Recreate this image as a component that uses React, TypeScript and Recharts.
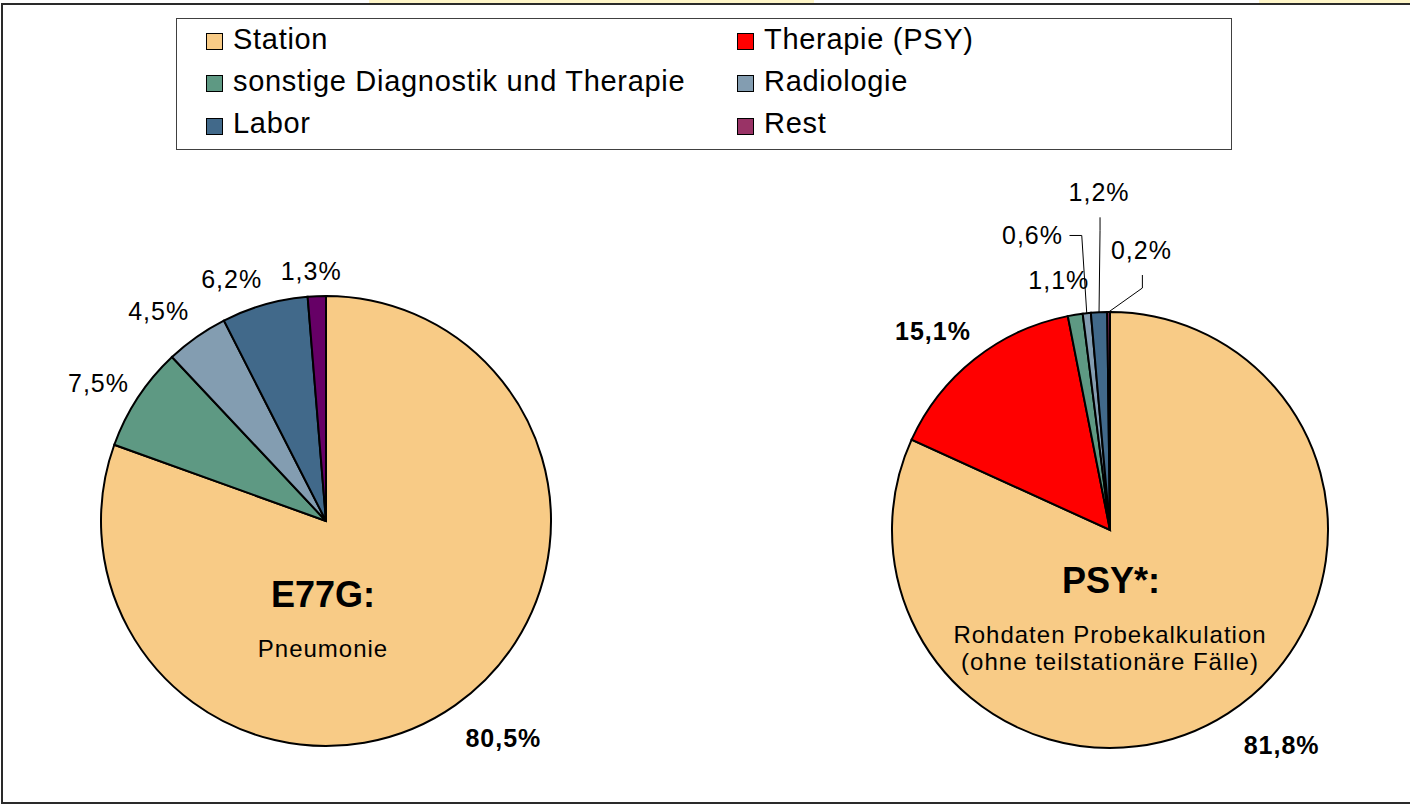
import React from 'react';
import { PieChart, Pie, Cell, Legend } from 'recharts';

const CATEGORIES = ['Station', 'Therapie (PSY)', 'sonstige Diagnostik und Therapie', 'Radiologie', 'Labor', 'Rest'];
const E77G_VALUES = [80.5, 0, 7.5, 4.5, 6.2, 1.3];
const PSY_VALUES = [81.8, 15.1, 1.1, 0.6, 1.2, 0.2];
const COLORS = ['#F8CB86', '#FF0000', '#5E9983', '#839DB1', '#41698A', '#993366'];
const E77G_REST_COLOR = '#660066';
const BOLD_LABELS = ['Station', 'Therapie (PSY)'];

const FONT = '"Liberation Sans", Arial, sans-serif';

// label placement tweaks (relative to a point 40px outside the slice)
type Nudge = { dx: number; dy: number; leader?: 'side' | 'below' };
const E77G_NUDGE: Record<string, Nudge> = {
  Station: { dx: 25, dy: 0 },
  'sonstige Diagnostik und Therapie': { dx: -6, dy: 7 },
  Radiologie: { dx: -15, dy: 7 },
  Labor: { dx: -22, dy: 13 },
  Rest: { dx: -4, dy: 15 },
};
const PSY_NUDGE: Record<string, Nudge> = {
  Station: { dx: 32, dy: -2 },
  'Therapie (PSY)': { dx: -17, dy: 3 },
  'sonstige Diagnostik und Therapie': { dx: -10, dy: 5 },
  Radiologie: { dx: -50, dy: -38, leader: 'side' },
  Labor: { dx: 2, dy: -80, leader: 'below' },
  Rest: { dx: 33, dy: -22, leader: 'below' },
};

const buildData = (values: number[], restColor: string) =>
  CATEGORIES.map((name, i) => ({
    name,
    value: values[i],
    color: name === 'Rest' ? restColor : COLORS[i],
  })).filter((d) => d.value > 0);

const e77gData = buildData(E77G_VALUES, E77G_REST_COLOR);
const psyData = buildData(PSY_VALUES, COLORS[5]);

const fmt = (v: number) => `${v.toFixed(1).replace('.', ',')}%`;

const makeLabel = (nudges: Record<string, Nudge>) => (props: any) => {
  const { cx, cy, midAngle, outerRadius, value } = props;
  const name = props.payload?.name ?? props.name;
  const n = nudges[name] || { dx: 0, dy: 0 };
  const rad = (-midAngle * Math.PI) / 180;
  const lx = cx + Math.cos(rad) * (outerRadius + 40) + n.dx;
  const ly = cy + Math.sin(rad) * (outerRadius + 40) + n.dy;
  const ex = cx + Math.cos(rad) * outerRadius;
  const ey = cy + Math.sin(rad) * outerRadius;
  const bold = BOLD_LABELS.includes(name);
  let path = '';
  if (n.leader === 'side') {
    path = `M${lx + 37},${ly} H${ex - 5} L${ex},${ey}`;
  } else if (n.leader === 'below') {
    path = `M${lx + 1},${ly + 25} V${ly + 38} L${ex},${ey}`;
  }
  return (
    <g>
      {path && <path d={path} fill="none" stroke="#000" strokeWidth={1} />}
      <text
        x={lx}
        y={ly}
        textAnchor="middle"
        dominantBaseline="central"
        fontFamily={FONT}
        fontSize={25}
        letterSpacing={1}
        fontWeight={bold ? 'bold' : 'normal'}
        fill="#000"
      >
        {fmt(value)}
      </text>
    </g>
  );
};

// titles printed inside the two pies
const CenterText = () => (
  <svg
    width={1410}
    height={805}
    style={{ position: 'absolute', left: 0, top: 0, pointerEvents: 'none' }}
  >
    <g fontFamily={FONT} fill="#000" textAnchor="middle">
      <text x={323} y={607} fontSize={36} fontWeight="bold">E77G:</text>
      <text x={323} y={657} fontSize={24} letterSpacing={1}>Pneumonie</text>
      <text x={1111} y={593} fontSize={36} fontWeight="bold">PSY*:</text>
      <text x={1110} y={643} fontSize={24} letterSpacing={1}>Rohdaten Probekalkulation</text>
      <text x={1110} y={670} fontSize={24} letterSpacing={1}>(ohne teilstationäre Fälle)</text>
    </g>
  </svg>
);

const LegendBox = () => {
  const colX = [0, 531];
  const rowTop = [0, 42, 84.5];
  return (
    <div
      style={{
        position: 'relative',
        width: 1056,
        height: 132,
        border: '1px solid #404040',
        boxSizing: 'border-box',
        background: '#fff',
        fontFamily: FONT,
        fontSize: 29,
        lineHeight: '29px',
        letterSpacing: 0.7,
        color: '#000',
      }}
    >
      {CATEGORIES.map((name, i) => {
        const x = colX[i % 2];
        const y = rowTop[Math.floor(i / 2)];
        return (
          <React.Fragment key={name}>
            <div
              style={{
                position: 'absolute',
                left: 29 + x,
                top: 14 + y,
                width: 17,
                height: 17,
                boxSizing: 'border-box',
                border: '1.5px solid #000',
                background: COLORS[i],
              }}
            />
            <div style={{ position: 'absolute', left: 56 + x, top: 5.5 + y, whiteSpace: 'nowrap' }}>{name}</div>
          </React.Fragment>
        );
      })}
    </div>
  );
};

export default function App() {
  return (
    <div
      style={{
        position: 'absolute',
        left: 0,
        top: 0,
        width: 1410,
        height: 805,
        overflow: 'hidden',
        background: '#fff',
      }}
    >
      <div style={{ position: 'absolute', left: 369, top: 0, width: 445, height: 3, background: '#FFF6C8' }} />
      <div style={{ position: 'absolute', left: 1259, top: 0, width: 151, height: 3, background: '#FFF6C8' }} />
      <div
        style={{
          position: 'absolute',
          left: 1,
          top: 3,
          width: 1420,
          height: 801,
          boxSizing: 'border-box',
          border: '2px solid #2a2a2a',
        }}
      />
      <div style={{ position: 'absolute', left: 0, top: 0 }}>
        <PieChart width={1410} height={805} margin={{ top: 0, right: 0, bottom: 0, left: 0 }}>
          <Legend
            layout="horizontal"
            verticalAlign="middle"
            align="center"
            wrapperStyle={{ left: 176, top: 18, width: 1056, height: 132 }}
            content={() => <LegendBox />}
          />
          <Pie
            data={e77gData}
            dataKey="value"
            nameKey="name"
            cx={326}
            cy={521}
            outerRadius={225}
            startAngle={90}
            endAngle={-270}
            stroke="#000"
            strokeWidth={2}
            label={makeLabel(E77G_NUDGE)}
            labelLine={false}
            isAnimationActive={false}
          >
            {e77gData.map((d) => (
              <Cell key={d.name} fill={d.color} />
            ))}
          </Pie>
          <Pie
            data={psyData}
            dataKey="value"
            nameKey="name"
            cx={1110}
            cy={530}
            outerRadius={218}
            startAngle={90}
            endAngle={-270}
            stroke="#000"
            strokeWidth={2}
            label={makeLabel(PSY_NUDGE)}
            labelLine={false}
            isAnimationActive={false}
          >
            {psyData.map((d) => (
              <Cell key={d.name} fill={d.color} />
            ))}
          </Pie>
        </PieChart>
        <CenterText />
      </div>
    </div>
  );
}
